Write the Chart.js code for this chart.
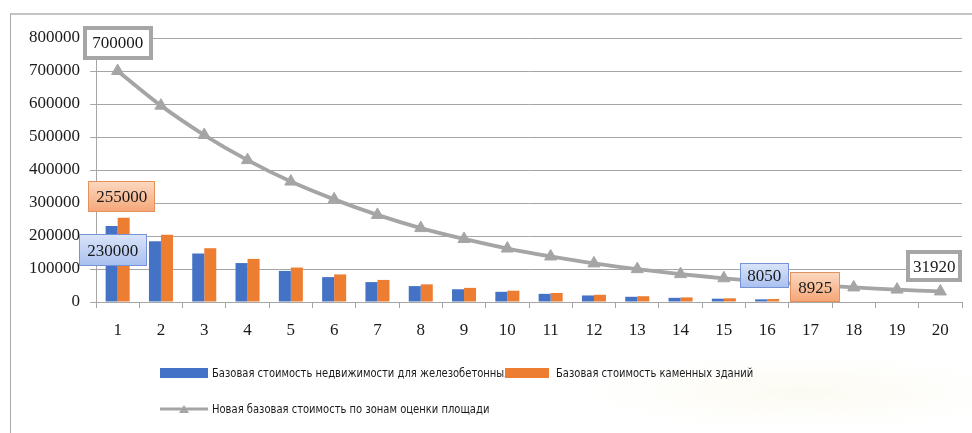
<!DOCTYPE html>
<html>
<head>
<meta charset="utf-8">
<script src="https://cdn.jsdelivr.net/npm/chart.js@4.4.1/dist/chart.umd.min.js"></script>
<style>
  html, body { margin: 0; padding: 0; background: #ffffff; width: 972px; height: 433px; overflow: hidden; }
  #frame { position: absolute; left: 10px; top: 13px; width: 980px; height: 440px;
           border-left: 1px solid #a9a9a9; border-top: 2px solid #c4c4c4; }
  #haze { position: absolute; left: 580px; top: 355px; width: 400px; height: 75px;
          background: radial-gradient(ellipse at 55% 50%, rgba(248,245,225,0.45) 0%, rgba(255,255,255,0) 70%); }
  #wrap { position: absolute; left: 0; top: 0; width: 972px; height: 433px; }
  #legend { position: absolute; left: 0; top: 0; width: 972px; height: 433px; pointer-events: none;
            font-family: "Liberation Sans Narrow", "DejaVu Sans Condensed", "Liberation Sans", sans-serif;
            font-size: 12px; color: #1a1a1a; }
  .txt { position: absolute; white-space: nowrap; line-height: 14px; transform-origin: 0 50%; }
  .sw { position: absolute; }
</style>
</head>
<body>
<div id="frame"></div>
<div id="haze"></div>
<div id="wrap"><canvas id="c" width="972" height="433"></canvas></div>
<div id="legend"></div>
<script>
// Evaluation zones 1..20
const categories = ['1','2','3','4','5','6','7','8','9','10','11','12','13','14','15','16','17','18','19','20'];

// Base cost of reinforced-concrete real estate
const reinforcedConcrete = [230000, 184000, 147000, 118000, 94200, 75400, 60300, 48200, 38600, 30900,
                            24700, 19800, 15800, 12600, 10100, 8050];

// Base cost of stone buildings
const stoneBuildings = [255000, 204000, 163000, 130600, 104400, 83600, 66900, 53500, 42800, 34200,
                        27400, 21900, 17500, 14000, 11200, 8925];

// New base cost by area evaluation zones
const newBaseCost = [700000, 595000, 506000, 430000, 365000, 311000, 264000, 224000, 191000, 162000,
                     138000, 117000, 99600, 84600, 71900, 61100, 52000, 44200, 37600, 31920];

const yTickValues = [0, 100000, 200000, 300000, 400000, 500000, 600000, 700000, 800000];

const seriesNames = [
  'Базовая стоимость недвижимости для железобетонных',
  'Базовая стоимость каменных зданий',
  'Новая базовая стоимость по зонам оценки площади'
];

const BLUE = '#4472c4', ORANGE = '#ed7d31', GRAY = '#a5a5a5', AXIS = '#a6a6a6';
const SERIF = '"Liberation Serif", "DejaVu Serif", serif';

// Callout boxes: dataset index, point index, offset of box centre from the point, box size, look
const callouts = [
  { ds: 2, idx: 0,  dx: 0,  dy: -28, w: 70, h: 34, look: 'gray' },
  { ds: 2, idx: 19, dx: -6, dy: -25, w: 56, h: 32, look: 'gray' },
  { ds: 0, idx: 0,  dx: 1,  dy: 24,  w: 68, h: 32, look: 'blue' },
  { ds: 1, idx: 0,  dx: -2, dy: -21, w: 67, h: 31, look: 'orange' },
  { ds: 0, idx: 15, dx: 3,  dy: -24, w: 49, h: 25, look: 'blue' },
  { ds: 1, idx: 15, dx: 42, dy: -12, w: 50, h: 30, look: 'orange' }
];

const calloutPlugin = {
  id: 'callouts',
  afterDatasetsDraw(chart) {
    const ctx = chart.ctx;
    callouts.forEach(c => {
      const el = chart.getDatasetMeta(c.ds).data[c.idx];
      if (!el) return;
      const value = chart.data.datasets[c.ds].data[c.idx];
      const cx = el.x + c.dx, cy = el.y + c.dy;
      const x = Math.round(cx - c.w / 2), y = Math.round(cy - c.h / 2);
      ctx.save();
      if (c.look === 'gray') {
        ctx.fillStyle = '#ffffff';
        ctx.fillRect(x, y, c.w, c.h);
        ctx.lineWidth = 4;
        ctx.strokeStyle = '#a6a6a6';
        ctx.strokeRect(x + 2, y + 2, c.w - 4, c.h - 4);
      } else {
        const g = ctx.createLinearGradient(0, y, 0, y + c.h);
        if (c.look === 'blue') {
          g.addColorStop(0, '#dbe5f8'); g.addColorStop(1, '#a8bff0');
          ctx.strokeStyle = '#7693d6';
        } else {
          g.addColorStop(0, '#fcd9c1'); g.addColorStop(1, '#f5a677');
          ctx.strokeStyle = '#e3925d';
        }
        ctx.fillStyle = g;
        ctx.fillRect(x, y, c.w, c.h);
        ctx.lineWidth = 1;
        ctx.strokeRect(x + 0.5, y + 0.5, c.w - 1, c.h - 1);
      }
      ctx.fillStyle = '#1a1a1a';
      ctx.font = '17px ' + SERIF;
      ctx.textAlign = 'center';
      ctx.textBaseline = 'middle';
      ctx.fillText(String(value), cx, cy + 1);
      ctx.restore();
    });
  }
};

const chart = new Chart(document.getElementById('c'), {
  data: {
    labels: categories,
    datasets: [
      { type: 'bar', label: seriesNames[0], data: reinforcedConcrete, backgroundColor: BLUE,
        categoryPercentage: 0.555, barPercentage: 1.0, order: 1 },
      { type: 'bar', label: seriesNames[1], data: stoneBuildings, backgroundColor: ORANGE,
        categoryPercentage: 0.555, barPercentage: 1.0, order: 1 },
      { type: 'line', label: seriesNames[2], data: newBaseCost, borderColor: GRAY, backgroundColor: GRAY,
        borderWidth: 3.8, tension: 0.3, pointStyle: 'triangle', pointRadius: 7, pointBorderWidth: 1,
        pointBackgroundColor: GRAY, pointBorderColor: GRAY, order: 0 }
    ]
  },
  options: {
    responsive: false,
    animation: false,
    layout: { padding: { left: 0, right: 10, top: 38, bottom: 91 } },
    plugins: { legend: { display: false }, tooltip: { enabled: false } },
    scales: {
      x: {
        grid: { offset: true, drawOnChartArea: false, drawTicks: true, tickLength: 6, color: AXIS },
        border: { color: AXIS, width: 1 },
        ticks: { font: { family: SERIF, size: 17 }, color: '#1a1a1a', padding: 12, maxRotation: 0 },
        afterFit(s) { s.height = 40; }
      },
      y: {
        min: 0, max: 800000,
        afterBuildTicks(s) { s.ticks = yTickValues.map(v => ({ value: v })); },
        grid: { color: AXIS, tickLength: 6 },
        border: { color: AXIS, width: 1 },
        ticks: { font: { family: SERIF, size: 17 }, color: '#1a1a1a', padding: 10, callback: v => String(v) },
        afterFit(s) { s.width = 96; }
      }
    }
  },
  plugins: [calloutPlugin]
});

// Legend in two rows, built from the dataset names and colours
(function buildLegend() {
  const L = document.getElementById('legend');
  const ds = chart.data.datasets;
  const items = [
    { d: ds[0], kind: 'box',  sx: 160, sw: 48, y: 373, tx: 212 },
    { d: ds[1], kind: 'box',  sx: 505, sw: 44, y: 373, tx: 556 },
    { d: ds[2], kind: 'line', sx: 160, sw: 48, y: 409, tx: 212 }
  ];
  // text first so that the second swatch overlaps the end of the first label
  items.forEach(it => {
    const t = document.createElement('div');
    t.className = 'txt';
    t.textContent = it.d.label;
    t.style.left = it.tx + 'px';
    t.style.top = (it.y - 7) + 'px';
    t.style.transform = 'scaleX(0.925)';
    L.appendChild(t);
  });
  items.forEach(it => {
    if (it.kind === 'box') {
      const b = document.createElement('div');
      b.className = 'sw';
      b.style.left = it.sx + 'px'; b.style.top = (it.y - 5) + 'px';
      b.style.width = it.sw + 'px'; b.style.height = '10px';
      b.style.background = it.d.backgroundColor;
      L.appendChild(b);
    } else {
      const ns = 'http://www.w3.org/2000/svg';
      const svg = document.createElementNS(ns, 'svg');
      svg.setAttribute('width', it.sw); svg.setAttribute('height', 14);
      svg.style.position = 'absolute';
      svg.style.left = it.sx + 'px'; svg.style.top = (it.y - 7) + 'px';
      const ln = document.createElementNS(ns, 'line');
      ln.setAttribute('x1', 0); ln.setAttribute('x2', it.sw);
      ln.setAttribute('y1', 7); ln.setAttribute('y2', 7);
      ln.setAttribute('stroke', it.d.borderColor); ln.setAttribute('stroke-width', 3);
      const tri = document.createElementNS(ns, 'polygon');
      const m = it.sw / 2;
      tri.setAttribute('points', (m - 5) + ',11 ' + (m + 5) + ',11 ' + m + ',3');
      tri.setAttribute('fill', it.d.borderColor);
      svg.appendChild(ln); svg.appendChild(tri);
      L.appendChild(svg);
    }
  });
})();
</script>
</body>
</html>
